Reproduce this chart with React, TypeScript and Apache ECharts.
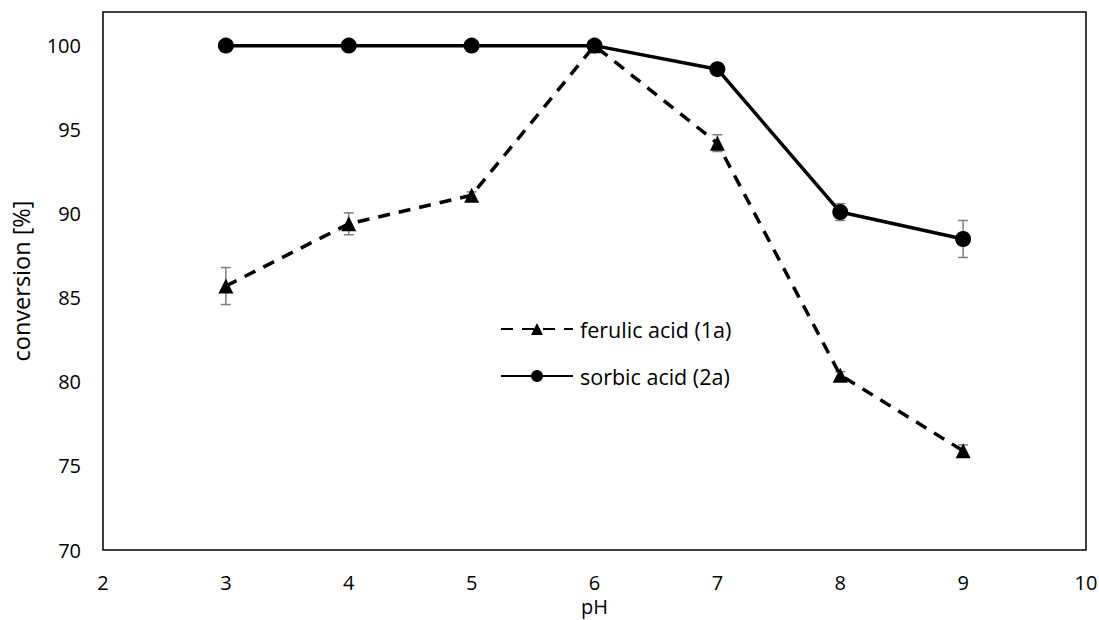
import React, { useEffect, useRef } from "react";
import * as echarts from "echarts";

const ph = [3, 4, 5, 6, 7, 8, 9];
const ferulic = [85.7, 89.4, 91.1, 100, 94.2, 80.4, 75.9];
const ferulicErr = [1.1, 0.65, 0.2, 0, 0.5, 0.2, 0.35];
const sorbic = [100, 100, 100, 100, 98.6, 90.1, 88.5];
const sorbicErr = [0, 0, 0, 0, 0.2, 0.5, 1.1];
const xTicks = [2, 3, 4, 5, 6, 7, 8, 9, 10];
const yTicks = [70, 75, 80, 85, 90, 95, 100];

const FONT = "Open Sans";

export default function App() {
  const ref = useRef<HTMLDivElement>(null);
  useEffect(() => {
    if (!ref.current) return;
    const chart = echarts.init(ref.current, undefined, { renderer: "svg" });
    const errData = (vals: number[], errs: number[]) =>
      ph.map((x, i) => [x, vals[i] - errs[i], vals[i] + errs[i]]);
    const errSeries = (name: string, vals: number[], errs: number[]) => ({
      type: "custom",
      name,
      z: 1,
      silent: true,
      data: errData(vals, errs),
      renderItem: (params: any, api: any) => {
        const x = api.value(0);
        const lo = api.coord([x, api.value(1)]);
        const hi = api.coord([x, api.value(2)]);
        if (Math.abs(hi[1] - lo[1]) < 0.5) return { type: "group", children: [] };
        const w = 5;
        const style = { stroke: "#7f7f7f", lineWidth: 1.5 };
        return {
          type: "group",
          children: [
            { type: "line", shape: { x1: lo[0], y1: lo[1], x2: hi[0], y2: hi[1] }, style },
            { type: "line", shape: { x1: lo[0] - w, y1: lo[1], x2: lo[0] + w, y2: lo[1] }, style },
            { type: "line", shape: { x1: hi[0] - w, y1: hi[1], x2: hi[0] + w, y2: hi[1] }, style },
          ],
        };
      },
    });
    chart.setOption({
      animation: false,
      textStyle: { fontFamily: FONT },
      grid: {
        left: 103,
        right: 13,
        top: 12,
        bottom: 70,
        outerBoundsMode: "none",
        containLabel: false,
        show: true,
        borderColor: "#000",
        borderWidth: 1.5,
        backgroundColor: "transparent",
      },
      legend: {
        orient: "vertical",
        left: 495,
        top: 313,
        itemWidth: 72,
        itemHeight: 15,
        itemGap: 25,
        textStyle: { fontFamily: FONT, fontSize: 21.5, color: "#000", padding: [0, 0, 0, 2] },
        data: [
          { name: "ferulic acid (1a)" },
          { name: "sorbic acid (2a)" },
        ],
      },
      xAxis: {
        type: "value",
        min: xTicks[0],
        max: xTicks[xTicks.length - 1],
        interval: 1,
        name: "pH",
        nameLocation: "middle",
        nameGap: 44,
        nameTextStyle: { fontFamily: FONT, fontSize: 20, color: "#000" },
        axisLine: { show: false },
        axisTick: { show: false },
        splitLine: { show: false },
        axisLabel: { fontFamily: FONT, fontSize: 20, color: "#000", margin: 22 },
      },
      yAxis: {
        type: "value",
        min: yTicks[0],
        max: 102,
        interval: 5,
        name: "conversion [%]",
        nameLocation: "middle",
        nameGap: 70,
        nameTextStyle: { fontFamily: FONT, fontSize: 23.5, color: "#000" },
        axisLine: { show: false },
        axisTick: { show: false },
        splitLine: { show: false },
        axisLabel: {
          fontFamily: FONT,
          fontSize: 20,
          color: "#000",
          margin: 22,
          showMaxLabel: false,
          formatter: (v: number) => (yTicks.includes(v) ? String(v) : ""),
        },
      },
      series: [
        errSeries("ferulic err", ferulic, ferulicErr),
        errSeries("sorbic err", sorbic, sorbicErr),
        {
          type: "line",
          name: "ferulic acid (1a)",
          z: 3,
          data: ph.map((x, i) => [x, ferulic[i]]),
          symbol: "triangle",
          symbolSize: 15,
          itemStyle: { color: "#000" },
          lineStyle: { color: "#000", width: 3.5, type: [12, 9] },
        },
        {
          type: "line",
          name: "sorbic acid (2a)",
          z: 3,
          data: ph.map((x, i) => [x, sorbic[i]]),
          symbol: "circle",
          symbolSize: 16,
          itemStyle: { color: "#000" },
          lineStyle: { color: "#000", width: 3.5 },
        },
      ],
    });
    return () => chart.dispose();
  }, []);
  return (
    <div
      ref={ref}
      style={{ position: "fixed", left: 0, top: 0, width: 1099, height: 620, background: "#fff" }}
    />
  );
}
